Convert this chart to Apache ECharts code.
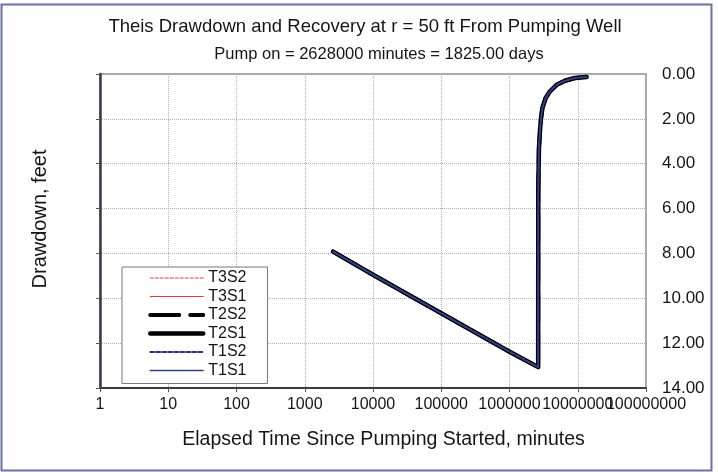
<!DOCTYPE html>
<html><head><meta charset="utf-8">
<script src="https://cdn.jsdelivr.net/npm/echarts@6/dist/echarts.min.js"></script>
<style>html,body{margin:0;padding:0;background:#fff}#c{width:718px;height:476px}</style>
</head><body><div id="c"></div>
<script>
// ---- data ----
const seriesNames = ['T3S2', 'T3S1', 'T2S2', 'T2S1', 'T1S2', 'T1S1'];
const timeMinutes = [2600, 10000, 100000, 1000000, 2628000, 2640000, 2700000, 2800000, 2900000, 3030000, 3390000, 3920000, 4920000, 6500000, 9120000, 13500000];
const drawdownFeet = [7.92, 8.95, 10.67, 12.38, 13.07, 5.2, 3.3, 2.5, 1.96, 1.52, 1.07, 0.77, 0.48, 0.30, 0.18, 0.13];
const xTickValues = [1, 10, 100, 1000, 10000, 100000, 1000000, 10000000, 100000000];
const yTickValues = [0, 2, 4, 6, 8, 10, 12, 14];
const titleText = 'Theis Drawdown and Recovery at r = 50 ft From Pumping Well';
const subtitleText = 'Pump on = 2628000 minutes = 1825.00 days';
const xTitle = 'Elapsed Time Since Pumping Started, minutes';
const yTitle = 'Drawdown, feet';

const FONT = '"Liberation Sans", Arial, sans-serif';
const points = timeMinutes.map((t, i) => [t, drawdownFeet[i]]);

const styles = {
  T3S2: { color: '#e23a3a', width: 1, type: [3, 2] },
  T3S1: { color: '#e23a3a', width: 1, type: 'solid' },
  T2S2: { color: '#000000', width: 4, type: [29, 11] },
  T2S1: { color: '#000000', width: 4.5, type: 'solid' },
  T1S2: { color: '#27317a', width: 2, type: [4, 2] },
  T1S1: { color: '#34428c', width: 1.5, type: 'solid' }
};

const xMin = xTickValues[0], xMax = xTickValues[xTickValues.length - 1];
const labelFor = (parity) => (v) => {
  const idx = Math.round(Math.log10(v));
  return (idx % 2 === parity) ? String(Math.round(v)) : '';
};

const chart = echarts.init(document.getElementById('c'), null, { renderer: 'canvas' });
chart.setOption({
  backgroundColor: '#ffffff',
  animation: false,
  textStyle: { fontFamily: FONT },
  grid: { left: 100, right: 72, top: 74, bottom: 88, show: true, borderColor: '#8a8a96', borderWidth: 1.5, backgroundColor: '#fff' },
  xAxis: [
    {
      type: 'log', logBase: 10, min: xMin, max: xMax, position: 'bottom',
      axisLine: { onZero: false, lineStyle: { color: '#3a3a48', width: 2 } },
      axisTick: { show: true, inside: false, length: 4, lineStyle: { color: '#555' } },
      minorTick: { show: false },
      axisLabel: { color: '#151515', fontSize: 16, margin: 9, fontFamily: FONT, showMinLabel: true, showMaxLabel: true,
        formatter: labelFor(0) },
      splitLine: { show: true, lineStyle: { color: '#b0b0b0', type: 'dotted', width: 1 } }
    },
    {
      type: 'log', logBase: 10, min: xMin, max: xMax, position: 'bottom',
      axisLine: { show: false, onZero: false }, axisTick: { show: false }, splitLine: { show: false },
      axisLabel: { color: '#151515', fontSize: 16, margin: 9, fontFamily: FONT, showMinLabel: true, showMaxLabel: true,
        formatter: labelFor(1) }
    }
  ],
  yAxis: [
    {
      type: 'value', inverse: true, min: yTickValues[0], max: yTickValues[yTickValues.length - 1], interval: 2,
      position: 'left',
      axisLine: { show: true, onZero: false, lineStyle: { color: '#3a3a48', width: 2.5 } },
      axisTick: { show: true, inside: false, length: 4, lineStyle: { color: '#555' } },
      axisLabel: { show: false },
      splitLine: { show: true, lineStyle: { color: '#b0b0b0', type: 'dotted', width: 1 } }
    },
    {
      type: 'value', inverse: true, min: yTickValues[0], max: yTickValues[yTickValues.length - 1], interval: 2,
      position: 'right',
      axisLine: { show: false }, axisTick: { show: false }, splitLine: { show: false },
      axisLabel: { show: true, color: '#151515', fontSize: 17, margin: 16, align: 'left', fontFamily: FONT,
        formatter: v => v.toFixed(2) }
    }
  ],
  legend: {
    orient: 'vertical', left: 122, top: 267,
    data: seriesNames,
    backgroundColor: '#ffffff', borderColor: '#77777f', borderWidth: 1,
    padding: [3, 21, 5, 26],
    itemWidth: 53, itemHeight: 14, itemGap: 2.5,
    itemStyle: { opacity: 0 },
    lineStyle: { width: 'inherit', type: 'inherit', color: 'inherit' },
    textStyle: { color: '#151515', fontSize: 16, fontFamily: FONT },
    selectedMode: false
  },
  series: seriesNames.map(name => ({
    name: name, type: 'line', xAxisIndex: 0, yAxisIndex: 0, data: points,
    showSymbol: false, symbol: 'none', smooth: false,
    lineStyle: { color: styles[name].color, width: styles[name].width, type: styles[name].type, cap: 'round', join: 'round' },
    itemStyle: { color: styles[name].color },
    emphasis: { disabled: true }
  })),
  graphic: [
    { type: 'rect', silent: true, z: 100, shape: { x: 1.5, y: 4.5, width: 710, height: 466 },
      style: { fill: 'none', stroke: '#6b70a6', lineWidth: 2 } },
    { type: 'text', x: 365, y: 27, style: { text: titleText, align: 'center', verticalAlign: 'middle', fontSize: 18.5, fontFamily: FONT, fill: '#151515' } },
    { type: 'text', x: 379, y: 54, style: { text: subtitleText, align: 'center', verticalAlign: 'middle', fontSize: 16.5, fontFamily: FONT, fill: '#151515' } },
    { type: 'text', x: 383.5, y: 440, style: { text: xTitle, align: 'center', verticalAlign: 'middle', fontSize: 19.5, fontFamily: FONT, fill: '#151515' } },
    { type: 'text', x: 40, y: 219, rotation: Math.PI / 2, style: { text: yTitle, align: 'center', verticalAlign: 'middle', fontSize: 20, fontFamily: FONT, fill: '#151515' } }
  ]
});
</script>
</body></html>
